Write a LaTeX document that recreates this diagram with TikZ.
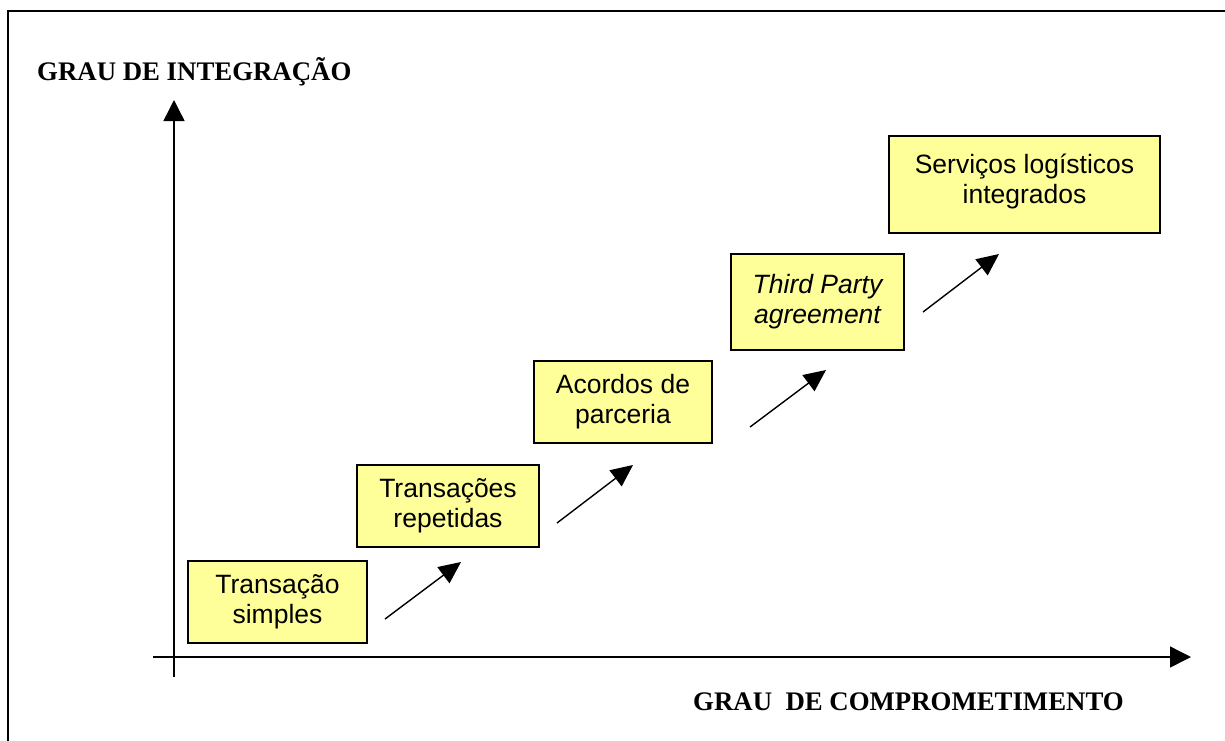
\documentclass[tikz,border=0pt]{standalone}
\usepackage{fontspec}
\setmainfont{Liberation Serif}
\newfontfamily\arialfont{Liberation Sans}
\usetikzlibrary{arrows.meta}
\definecolor{boxyellow}{RGB}{255,255,153}
\begin{document}
\begin{tikzpicture}[x=1pt,y=-1pt,
  stagebox/.style={draw=black, line width=1.3pt, fill=boxyellow, rectangle, align=center, inner sep=0pt,
    font=\arialfont\fontsize{26.5}{30}\selectfont},
  axislabel/.style={inner sep=0pt, font=\bfseries\fontsize{26.8}{32}\selectfont},
  axisline/.style={line width=1.4pt, -{Triangle[length=21pt,width=21pt]}},
  steparrow/.style={line width=1.4pt, -{Triangle[length=22pt,width=20pt]}}]
\useasboundingbox (0,0) rectangle (1225,740);
\clip (0,0) rectangle (1225,740);
% outer frame
\draw[line width=1.6pt] (8,11) rectangle (1260,780);
% axes
\coordinate (yb) at (174,677);
\coordinate (yt) at (174,100);
\coordinate (xl) at (153,657);
\coordinate (xr) at (1191,657);
\draw[axisline] (yb) -- (yt);
\draw[axisline] (xl) -- (xr);
% axis labels
\node[axislabel, anchor=base west] (ly) at (37,80) {GRAU DE INTEGRAÇÃO};
\node[axislabel, anchor=base west] (lx) at (693,710) {GRAU\ \ DE COMPROMETIMENTO};
% stage boxes
\node[stagebox, minimum width=179, minimum height=82] (b1) at (277.5,602) {Transação\\simples};
\node[stagebox, minimum width=182, minimum height=82] (b2) at (448,506) {Transações\\repetidas};
\node[stagebox, minimum width=178, minimum height=82] (b3) at (623,402) {Acordos de\\parceria};
\node[stagebox, minimum width=173, minimum height=96] (b4) at (817.5,302) {\itshape Third Party\\\itshape agreement};
\node[stagebox, minimum width=271, minimum height=97, text depth=12pt] (b5) at (1024.5,184.5) {Serviços logísticos\\integrados};
% step arrows
\coordinate (a1s) at (385,619);
\coordinate (a1e) at (461,562);
\coordinate (a2s) at (557,523);
\coordinate (a2e) at (633,465);
\coordinate (a3s) at (750,427);
\coordinate (a3e) at (826,370);
\coordinate (a4s) at (923,312);
\coordinate (a4e) at (999,254);
\draw[steparrow] (a1s) -- (a1e);
\draw[steparrow] (a2s) -- (a2e);
\draw[steparrow] (a3s) -- (a3e);
\draw[steparrow] (a4s) -- (a4e);
\end{tikzpicture}
\end{document}
